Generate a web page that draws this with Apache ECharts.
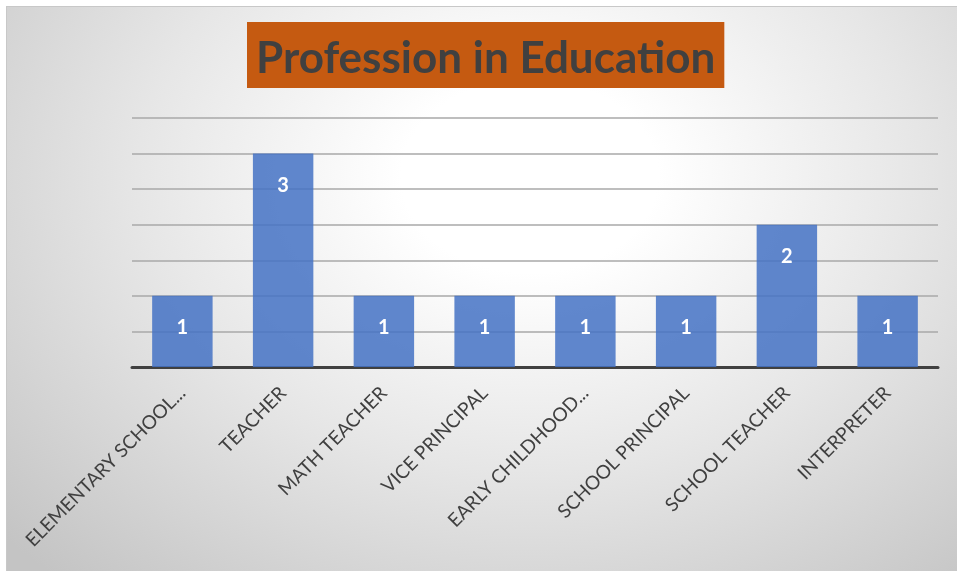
<!DOCTYPE html>
<html>
<head>
<meta charset="utf-8">
<script src="https://cdn.jsdelivr.net/npm/echarts@6/dist/echarts.min.js"></script>
<style>
html,body{margin:0;padding:0;background:#fff;}
#chart{position:absolute;left:6px;top:6px;width:951px;height:565px;
background:radial-gradient(ellipse 75% 95% at 55% 30%, #ffffff 0%, #ffffff 18%, #e6e6e6 55%, #c4c4c4 100%);
border-left:1px solid #c8c8c8;border-top:1px solid #c8c8c8;box-sizing:border-box;}
</style>
</head>
<body>
<div id="chart"></div>
<script>
const titleText = 'Profession in Education';
const categories = ['ELEMENTARY SCHOOL...', 'TEACHER', 'MATH TEACHER', 'VICE PRINCIPAL', 'EARLY CHILDHOOD...', 'SCHOOL PRINCIPAL', 'SCHOOL TEACHER', 'INTERPRETER'];
const counts = [1, 3, 1, 1, 1, 1, 2, 1];

const chart = echarts.init(document.getElementById('chart'), null, {renderer: 'canvas'});
chart.setOption({
  backgroundColor: 'transparent',
  animation: false,
  title: {
    text: titleText,
    left: 240,
    top: 15,
    backgroundColor: '#C55A11',
    padding: [12, 9, 4, 9],
    textStyle: {color: '#404040', fontFamily: 'Lato', fontWeight: 'bold', fontSize: 44, lineHeight: 50}
  },
  grid: {left: 125, right: 19, top: 111, bottom: 204, containLabel: false},
  xAxis: {
    type: 'category',
    data: categories,
    axisLine: {lineStyle: {color: '#404040', width: 3}},
    axisTick: {show: false},
    axisLabel: {rotate: 45, margin: 23, color: '#404040', fontFamily: 'Lato', fontSize: 19, interval: 0}
  },
  yAxis: {
    type: 'value',
    min: 0, max: 3.5, interval: 0.5,
    axisLine: {show: false},
    axisTick: {show: false},
    axisLabel: {show: false},
    splitLine: {lineStyle: {color: '#a8a8a8', width: 1.5}}
  },
  series: [{
    type: 'bar',
    data: counts,
    barWidth: '60%',
    itemStyle: {color: 'rgba(68,114,196,0.85)'},
    label: {show: true, position: 'insideTop', distance: 22, color: '#ffffff', fontWeight: 'bold', fontFamily: 'Lato', fontSize: 20}
  }]
});
</script>
</body>
</html>
